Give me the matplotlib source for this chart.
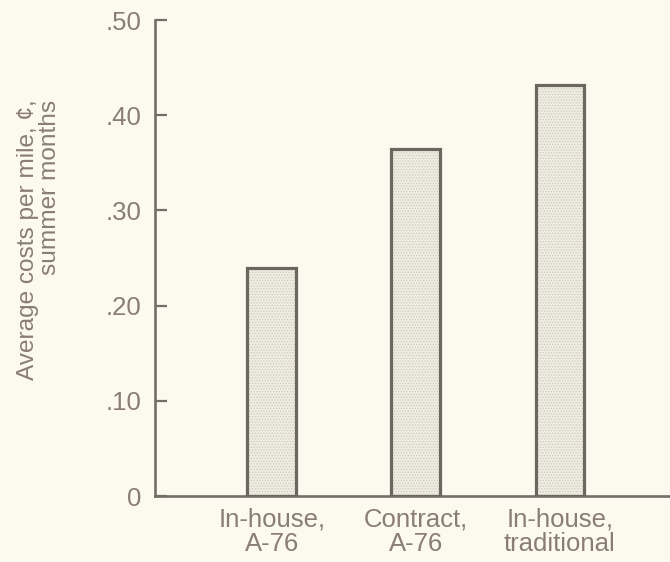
import matplotlib
matplotlib.use("Agg")
import matplotlib.pyplot as plt

# data
categories = ["In-house,\nA-76", "Contract,\nA-76", "In-house,\ntraditional"]
costs = [0.240, 0.364, 0.432]
ytick_values = [0, 0.10, 0.20, 0.30, 0.40, 0.50]
ytick_labels = ["0", ".10", ".20", ".30", ".40", ".50"]

paper = "#fcf9ee"
ink = "#756d67"
text_col = "#8a7d74"

plt.rcParams["font.family"] = ["Liberation Sans", "DejaVu Sans"]
plt.rcParams["hatch.linewidth"] = 0.6

fig = plt.figure(figsize=(6.7, 5.62), dpi=100, facecolor=paper)
ax = fig.add_axes([0.2313, 0.1174, 0.7687, 0.847])
ax.set_facecolor(paper)

x = list(range(len(categories)))
# stippled fill, then the dark outline on top
ax.bar(x, costs, width=0.34, color="#efece1", edgecolor="#cdc9bf",
       hatch="......", linewidth=0, zorder=2)
ax.bar(x, costs, width=0.34, fill=False, edgecolor="#6c6660",
       linewidth=2.3, zorder=3)

ax.set_xlim(-0.8125, 2.764)
ax.set_ylim(0, 0.5)

ax.set_yticks(ytick_values)
ax.set_yticklabels(ytick_labels)
ax.set_xticks(x)
ax.set_xticklabels(categories, linespacing=1.05)

for s in ["top", "right"]:
    ax.spines[s].set_visible(False)
for s in ["left", "bottom"]:
    ax.spines[s].set_color(ink)
    ax.spines[s].set_linewidth(1.9)

ax.tick_params(axis="y", direction="in", length=8.5, width=1.6, color=ink,
               labelcolor=text_col, labelsize=18.5, pad=10)
ax.tick_params(axis="x", length=0, labelcolor=text_col, labelsize=18.5, pad=8)

ax.set_ylabel("Average costs per mile, \u00a2,\nsummer months", color=text_col,
              fontsize=17.6, multialignment="right", linespacing=1.0)
ax.yaxis.set_label_coords(-0.182, 0.538)

fig.savefig("out.png", dpi=100, facecolor=paper)
